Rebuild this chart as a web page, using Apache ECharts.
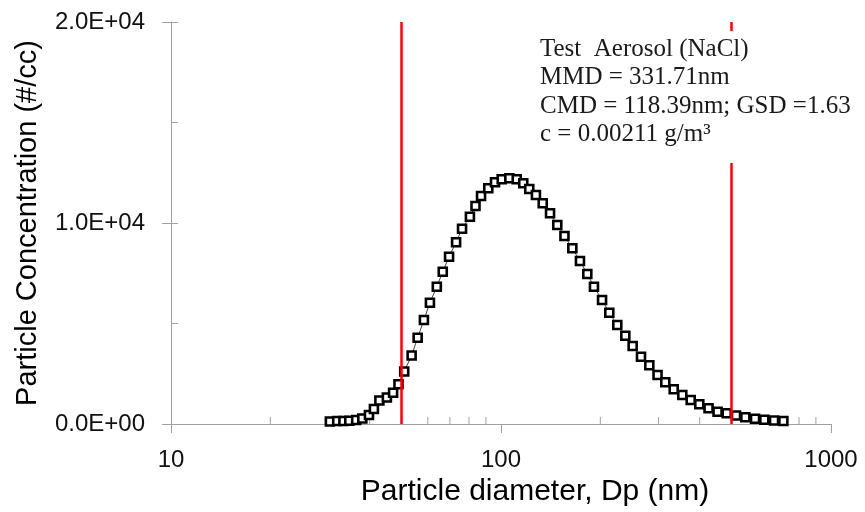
<!DOCTYPE html>
<html>
<head>
<meta charset="utf-8">
<style>
  html, body { margin: 0; padding: 0; background: #fff; }
  #chart { width: 865px; height: 512px; }
</style>
<script src="https://cdn.jsdelivr.net/npm/echarts@6/dist/echarts.min.js"></script>
</head>
<body>
<div id="chart"></div>
<script>
// particle diameter (nm)
var diameters = [30.3, 31.9, 33.3, 34.7, 36.4, 38.0, 39.8, 41.2, 42.8, 45.1,
    47.1, 48.9, 50.9, 53.6, 55.9, 58.4, 60.9, 63.9, 66.6, 69.6,
    73.1, 76.2, 80.5, 83.7, 87.0, 91.5, 95.9, 100.5, 106.0, 111.6,
    116.8, 121.8, 127.6, 133.8, 140.8, 148.1, 155.7, 164.5, 173.5, 182.6,
    191.3, 202.4, 212.9, 225.1, 238.1, 250.6, 265.6, 281.5, 298.1, 314.7,
    333.7, 354.3, 375.7, 398.9, 425.5, 453.2, 483.0, 515.4, 550.1, 588.6,
    628.0, 672.1, 717.2];
// concentration (#/cc)
var concentration = [124, 149, 149, 164, 199, 274, 448, 746, 1169, 1318,
    1557, 1975, 2612, 3408, 4293, 5174, 6035, 6831, 7577, 8323,
    9040, 9716, 10313, 10846, 11343, 11726, 12025, 12174, 12224, 12174,
    11975, 11691, 11393, 10980, 10482, 9900, 9353, 8741, 8109, 7463,
    6831, 6169, 5537, 4925, 4393, 3881, 3348, 2920, 2438, 2075,
    1726, 1443, 1194, 980, 781, 612, 532, 423, 338, 264,
    214, 174, 150];

var cutLines = [50, 500];

var xTicks = [10, 100, 1000];
var xTickLabels = ['10', '100', '1000'];
var xMinorTicks = [20, 30, 40, 50, 60, 70, 80, 90, 200, 300, 400, 500, 600, 700, 800, 900];
var yTicks = [0, 10000, 20000];
var yTickLabels = ['0.0E+00', '1.0E+04', '2.0E+04'];

var noteLines = [
    'Test  Aerosol (NaCl)',
    'MMD = 331.71nm',
    'CMD = 118.39nm; GSD =1.63',
    'c = 0.00211 g/m\u00b3'
];

var points = [];
for (var i = 0; i < diameters.length; i++) {
    points.push([diameters[i], concentration[i]]);
}

var myChart = echarts.init(document.getElementById('chart'));

var axisGray = '#a0a0a0';
var sans = '"Liberation Sans", Arial, sans-serif';

option = {
    animation: false,
    grid: { left: 171, right: 34, top: 22, bottom: 88 },
    xAxis: {
        type: 'log',
        logBase: 10,
        min: 10,
        max: 1000,
        name: 'Particle diameter, Dp (nm)',
        nameLocation: 'middle',
        nameGap: 47,
        nameTextStyle: { color: '#000', fontSize: 30, fontFamily: sans, padding: [0, 0, 0, 68] },
        axisLine: { lineStyle: { color: axisGray, width: 1 } },
        axisTick: { show: true, length: 9, lineStyle: { color: axisGray } },
        axisLabel: {
            color: '#111', fontSize: 24, fontFamily: sans, margin: 24,
            formatter: function (v) {
                var k = xTicks.indexOf(Math.round(v));
                return k >= 0 ? xTickLabels[k] : '';
            }
        },
        splitLine: { show: false },
        minorTick: { show: false }
    },
    yAxis: [{
        type: 'value',
        min: 0,
        max: 20000,
        interval: 10000,
        name: 'Particle Concentration (#/cc)',
        nameLocation: 'middle',
        nameGap: 129,
        nameTextStyle: { color: '#000', fontSize: 29, fontFamily: sans },
        axisLine: { show: true, lineStyle: { color: axisGray, width: 1 } },
        axisTick: { show: true, length: 9, lineStyle: { color: axisGray } },
        axisLabel: {
            color: '#111', fontSize: 24, fontFamily: sans, margin: 26,
            formatter: function (v) {
                var k = yTicks.indexOf(v);
                return k >= 0 ? yTickLabels[k] : '';
            }
        },
        splitLine: { show: false }
    }, {
        // inside ticks every 5000
        type: 'value',
        position: 'left',
        min: 0,
        max: 20000,
        interval: 5000,
        axisLine: { show: false },
        axisTick: { show: true, inside: true, length: 7, lineStyle: { color: axisGray } },
        axisLabel: { show: false },
        splitLine: { show: false }
    }],
    graphic: [{
        type: 'rect',
        z: 100,
        shape: { x: 528, y: 31, width: 335, height: 132 },
        style: { fill: '#fff' }
    }, {
        type: 'text',
        z: 101,
        x: 540,
        y: 35,
        style: {
            text: noteLines.join('\n'),
            font: '25px "Liberation Serif", "DejaVu Serif", serif',
            fill: '#1a1a1a',
            lineHeight: 28.5
        }
    }],
    series: [{
        // minor ticks on the log axis, pointing up
        type: 'custom',
        silent: true,
        z: 1,
        data: xMinorTicks.map(function (v) { return [v, 0]; }),
        renderItem: function (params, api) {
            var p = api.coord([api.value(0), 0]);
            return {
                type: 'line',
                shape: { x1: p[0], y1: p[1], x2: p[0], y2: p[1] - 7 },
                style: { stroke: axisGray, lineWidth: 1 }
            };
        }
    }, {
        type: 'line',
        data: points,
        z: 3,
        symbol: 'rect',
        symbolSize: 8,
        showAllSymbol: true,
        lineStyle: { color: '#444', width: 1 },
        itemStyle: { color: '#fff', borderColor: '#000', borderWidth: 2.6 },
        markLine: {
            silent: true,
            symbol: 'none',
            label: { show: false },
            lineStyle: { color: '#ff0000', width: 2.5, type: 'solid' },
            data: cutLines.map(function (v) { return { xAxis: v }; })
        }
    }]
};

myChart.setOption(option);
</script>
</body>
</html>
